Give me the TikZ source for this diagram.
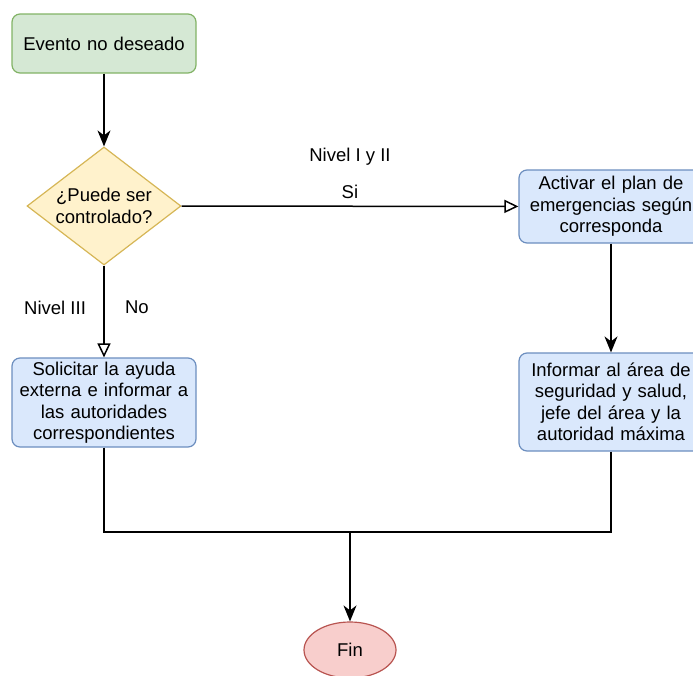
\documentclass[tikz,border=0pt]{standalone}
\usepackage{fontspec}
\setmainfont{Liberation Sans}
\usetikzlibrary{shapes.geometric,arrows.meta}
\definecolor{greenfill}{HTML}{D5E8D4}
\definecolor{greenline}{HTML}{82B366}
\definecolor{yellowfill}{HTML}{FFF2CC}
\definecolor{yellowline}{HTML}{D6B656}
\definecolor{bluefill}{HTML}{DAE8FC}
\definecolor{blueline}{HTML}{6C8EBF}
\definecolor{redfill}{HTML}{F8CECC}
\definecolor{redline}{HTML}{B85450}
\begin{document}
\begin{tikzpicture}[
    x=1pt, y=-1pt,
    every node/.style={font=\fontsize{18.5pt}{21.5pt}\selectfont},
    box/.style={rectangle, rounded corners=8pt, draw=blueline, fill=bluefill, line width=1.2pt,
      minimum width=184pt, text width=176pt, align=center, inner sep=0pt},
    decision/.style={diamond, aspect=1.3, draw=yellowline, fill=yellowfill, line width=1.2pt,
      minimum width=154pt, minimum height=118pt, inner sep=0pt, align=center},
    terminal/.style={ellipse, draw=redline, fill=redfill, line width=1.2pt,
      minimum width=92pt, minimum height=56pt, inner sep=0pt},
    arr/.style={-{Stealth[length=16pt, width=13pt, inset=5pt]}},
    openarr/.style={-{Triangle[open, length=14pt, width=13pt, fill=white]}},
    line width=1.5pt
  ]
  \useasboundingbox (0,0) rectangle (693,675);
  \node[box, draw=greenline, fill=greenfill, minimum height=59pt] (evento) at (104,43.5) {Evento no deseado};
  \node[decision] (pregunta) at (104,206) {¿Puede ser\\controlado?};
  \node[box, minimum height=73pt] (activar) at (611,206.5) {Activar el plan de\\emergencias según\\corresponda};
  \node[box, minimum height=89pt] (solicitar) at (104,402.5) {Solicitar la ayuda\\externa e informar a\\las autoridades\\correspondientes};
  \node[box, minimum height=98pt] (informar) at (611,402) {Informar al área de\\seguridad y salud,\\jefe del área y la\\autoridad máxima};
  \node[terminal] (fin) at (350,650) {Fin};
  \coordinate (union) at (350,532);
  \draw[arr] (evento) -- (pregunta);
  \draw[openarr] (pregunta) -- node[above=3pt] {Si} node[above=37pt] {Nivel I y II} (activar);
  \draw[openarr] (pregunta) -- node[left=14pt, yshift=4pt] {Nivel III} node[right=17pt, yshift=4pt] {No} (solicitar);
  \draw[arr] (activar) -- (informar);
  \draw (solicitar) |- (union);
  \draw (informar) |- (union);
  \draw[arr] (union) -- (fin);
\end{tikzpicture}
\end{document}
